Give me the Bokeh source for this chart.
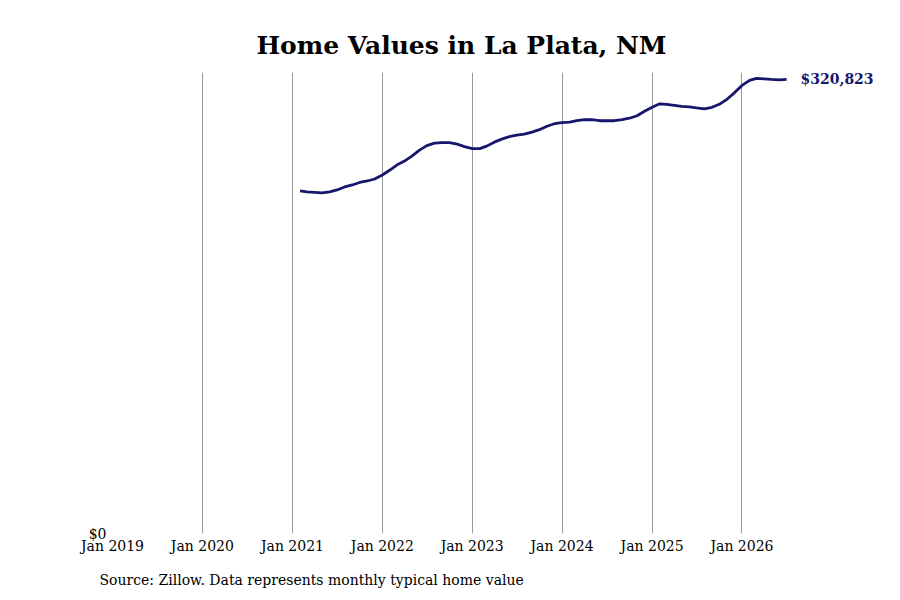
from datetime import datetime
import pandas as pd
from bokeh.plotting import figure
from bokeh.models import Range1d, FixedTicker, DatetimeTickFormatter, NumeralTickFormatter, Title, ColumnDataSource
from bokeh.core.properties import value
from bokeh.embed import file_html
from bokeh.resources import INLINE

# ---- data ----
title_text = "Home Values in La Plata, NM"
source_text = "Source: Zillow. Data represents monthly typical home value"
first_month = "2021-02-01"
home_values = [
    242024, 241321, 240970, 240617, 241321, 242728, 244839, 246246, 248005, 249060, 250467,
    253281, 256799, 260317, 263131, 266649, 270870, 274036, 275795, 276147, 276147, 275092, 273333,
    271926, 271926, 273685, 276499, 278610, 280369, 281424, 282127, 283534, 285293, 287756, 289515,
    290218, 290570, 291625, 292329, 292329, 291625, 291625, 291625, 292329, 293384, 295143, 298309,
    301123, 303586, 303234, 302530, 301827, 301475, 300772, 300068, 301123, 303234, 306752, 311325,
    316603, 320120, 321527, 321175, 320823, 320471, 320823,
]
tick_years = [2019, 2020, 2021, 2022, 2023, 2024, 2025, 2026]
grid_years = [2020, 2021, 2022, 2023, 2024, 2025, 2026]

months = pd.date_range(first_month, periods=len(home_values), freq="MS")
src = ColumnDataSource(data=dict(date=months, val=home_values))

NAVY = "#16166b"
FONT = "DejaVu Serif"

def ms(y):
    return pd.Timestamp(datetime(y, 1, 1)).value / 1e6

p = figure(
    width=892, height=600,
    x_axis_type="datetime",
    x_range=Range1d(datetime(2019, 1, 1), datetime(2027, 8, 7)),
    y_range=Range1d(0, 325700),
    output_backend="svg", toolbar_location=None,
    min_border_left=112, min_border_right=7, min_border_top=72, min_border_bottom=65,
)
p.outline_line_color = None
p.background_fill_color = "white"

p.title.text = title_text
p.title.text_font = FONT
p.title.text_font_size = "25px"
p.title.text_font_style = "bold"
p.title.align = "left"
p.title.offset = 144
p.title.standoff = 25
p.title.text_color = "black"

p.line("date", "val", source=src, line_color=NAVY, line_width=2.8)

last_label = f"${home_values[-1]:,}"
p.text(x=[months[-1]], y=[home_values[-1]], text=[last_label], x_offset=14,
       text_baseline="middle", text_align="left",
       text_font=value(FONT), text_font_style="bold", text_font_size="14px", text_color=NAVY)

# x axis
xa = p.xaxis[0]
xa.ticker = FixedTicker(ticks=[ms(y) for y in tick_years])
xa.formatter = DatetimeTickFormatter(years="%b %Y", months="%b %Y", days="%b %Y", hours="%b %Y")
xa.axis_line_color = None
xa.major_tick_line_color = None
xa.minor_tick_line_color = None
xa.major_tick_out = 0
xa.major_label_standoff = 4
xa.major_label_text_font = FONT
xa.major_label_text_font_size = "14px"
xa.major_label_text_color = "black"

# y axis
ya = p.yaxis[0]
ya.ticker = FixedTicker(ticks=[0])
ya.formatter = NumeralTickFormatter(format="$0,0")
ya.axis_line_color = None
ya.major_tick_line_color = None
ya.minor_tick_line_color = None
ya.major_tick_out = 0
ya.major_label_standoff = 6
ya.major_label_text_font = FONT
ya.major_label_text_font_size = "14px"
ya.major_label_text_color = "black"

p.xgrid.ticker = FixedTicker(ticks=[ms(y) for y in grid_years])
p.xgrid.grid_line_color = "#999999"
p.xgrid.grid_line_width = 1
p.ygrid.grid_line_color = None

p.add_layout(Title(text=source_text, align="left", offset=-13, text_font=FONT,
                   text_font_size="14px", text_font_style="normal", text_color="black",
                   standoff=26), "below")

open("out.html", "w").write(file_html(p, INLINE))
